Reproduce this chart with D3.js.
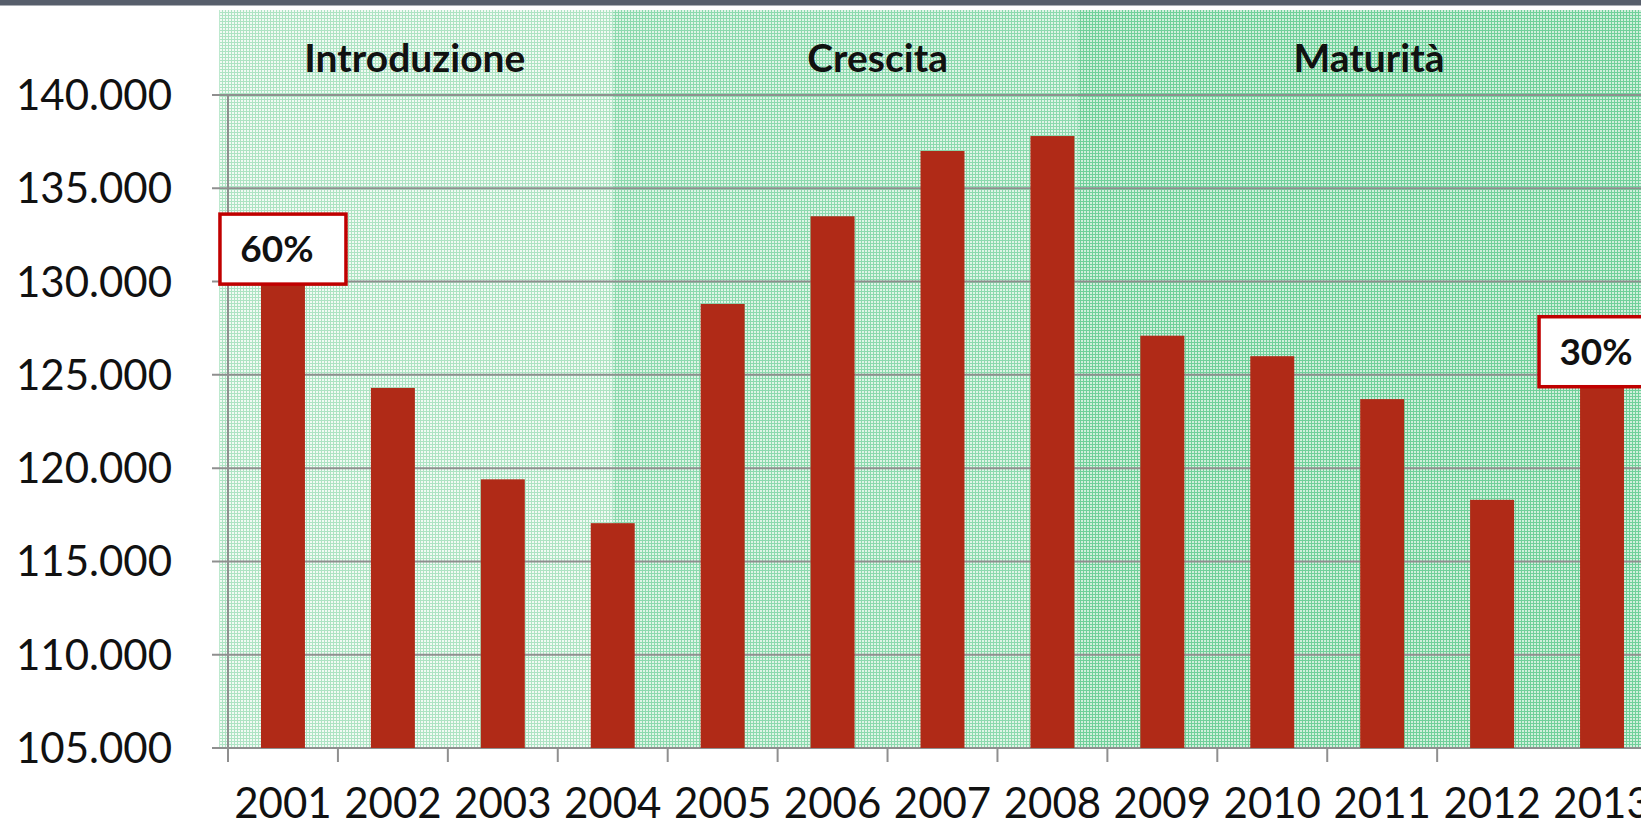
<!DOCTYPE html>
<html>
<head>
<meta charset="utf-8">
<script src="https://cdn.jsdelivr.net/npm/d3@7"></script>
<style>
  html, body { margin: 0; padding: 0; background: #ffffff; }
  svg { display: block; }
</style>
</head>
<body>
<svg id="chart" width="1641" height="827"></svg>
<script>
// ---- data ----
const years = ["2001","2002","2003","2004","2005","2006","2007","2008","2009","2010","2011","2012","2013"];
const values = [130400,124300,119400,117050,128800,133500,137000,137800,127100,126000,123700,118300,124900];
const yTickValues = [105000,110000,115000,120000,125000,130000,135000,140000];
const phaseNames = ["Introduzione","Crescita","Maturità"];
const phaseStart = [-0.08, 3.5, 7.73];      // in category-index units
const phaseEnd = [3.5, 7.73, 13.5];
const phaseLabelAt = [1.7, 5.91, 10.38];
const calloutYears = ["2001","2013"];
const calloutLabels = ["60%","30%"];

// ---- layout ----
const W = 1641, H = 827;
const svg = d3.select("#chart");
const x0 = 228, x1 = 1657;
const x = d3.scaleBand().domain(years).range([x0, x1]).paddingInner(0.6).paddingOuter(0.3);
const xi = d3.scaleLinear().domain([0, years.length]).range([x0, x1]);
const y = d3.scaleLinear().domain([105000, 140000]).range([748, 95]);
const fmt = d3.formatLocale({decimal: ",", thousands: ".", grouping: [3], currency: ["€", ""]}).format(",");
const font = "Lato, 'Open Sans', sans-serif";

// patterns
const defs = svg.append("defs");
const patternStyles = [
  {bg: "#f1faf4", line: "#ade3c3"},
  {bg: "#def4e6", line: "#8bd9ad"},
  {bg: "#d0efdc", line: "#70d09a"}
];
patternStyles.forEach((p, i) => {
  const pat = defs.append("pattern").attr("id", "pat" + i)
    .attr("patternUnits", "userSpaceOnUse").attr("width", 3).attr("height", 3);
  pat.append("rect").attr("width", 3).attr("height", 3).attr("fill", p.bg);
  pat.append("rect").attr("width", 3).attr("height", 1).attr("fill", p.line);
  pat.append("rect").attr("width", 1).attr("height", 3).attr("fill", p.line);
});

// top dark strip
svg.append("rect").attr("x", 0).attr("y", 0).attr("width", W).attr("height", 5.5).attr("fill", "#575e6b");

// phase bands
const phases = phaseNames.map((n, i) => ({name: n, s: phaseStart[i], e: phaseEnd[i], l: phaseLabelAt[i], i}));
svg.append("g").selectAll("rect").data(phases).join("rect")
  .attr("x", d => xi(d.s)).attr("y", 10)
  .attr("width", d => xi(d.e) - xi(d.s)).attr("height", y(105000) - 10)
  .attr("fill", d => "url(#pat" + d.i + ")");

svg.append("g").selectAll("text").data(phases).join("text")
  .attr("x", d => xi(d.l)).attr("y", 72)
  .attr("text-anchor", "middle")
  .attr("font-family", font)
  .attr("font-weight", "bold").attr("font-size", 39).attr("fill", "#111")
  .text(d => d.name);

// gridlines
const axisColor = "#8f8f8f";
svg.append("g").selectAll("line").data(yTickValues).join("line")
  .attr("x1", 212).attr("x2", W).attr("y1", d => y(d)).attr("y2", d => y(d))
  .attr("stroke", axisColor).attr("stroke-width", 2);

// y axis line
svg.append("line").attr("x1", x0).attr("x2", x0).attr("y1", y(140000)).attr("y2", 762)
  .attr("stroke", axisColor).attr("stroke-width", 2);

// x ticks at category boundaries
const boundaries = d3.range(0, years.length - 1);
svg.append("g").selectAll("line").data(boundaries).join("line")
  .attr("x1", d => xi(d)).attr("x2", d => xi(d)).attr("y1", y(105000)).attr("y2", 762)
  .attr("stroke", axisColor).attr("stroke-width", 2);

// y labels
svg.append("g").selectAll("text").data(yTickValues).join("text")
  .attr("x", 172).attr("y", d => y(d) + 15)
  .attr("text-anchor", "end")
  .attr("font-family", font)
  .attr("font-size", 42).attr("fill", "#111")
  .text(d => fmt(d));

// bars
const data = years.map((yr, i) => ({year: yr, value: values[i]}));
svg.append("g").selectAll("rect").data(data).join("rect")
  .attr("x", d => x(d.year)).attr("width", x.bandwidth())
  .attr("y", d => y(d.value)).attr("height", d => y(105000) - y(d.value))
  .attr("fill", "#b02a17");

// x labels
svg.append("g").selectAll("text").data(years).join("text")
  .attr("x", d => x(d) + x.bandwidth() / 2).attr("y", 818)
  .attr("text-anchor", "middle")
  .attr("font-family", font)
  .attr("font-size", 42).attr("fill", "#111")
  .text(d => d);

// callouts
const callouts = calloutYears.map((yr, i) => ({year: yr, label: calloutLabels[i], value: values[years.indexOf(yr)]}));
const bw = 126, bh = 70;
const cg = svg.append("g").selectAll("g").data(callouts).join("g")
  .attr("transform", d => `translate(${x(d.year) + x.bandwidth() / 2},${y(d.value) + 10 - bh})`);
cg.append("rect").attr("x", -bw / 2).attr("y", 0).attr("width", bw).attr("height", bh)
  .attr("fill", "#ffffff").attr("stroke", "#c00000").attr("stroke-width", 3.5);
cg.append("text").attr("x", -6).attr("y", bh / 2 + 13)
  .attr("text-anchor", "middle")
  .attr("font-family", font)
  .attr("font-weight", "bold").attr("font-size", 37).attr("fill", "#111")
  .text(d => d.label);
</script>
</body>
</html>
